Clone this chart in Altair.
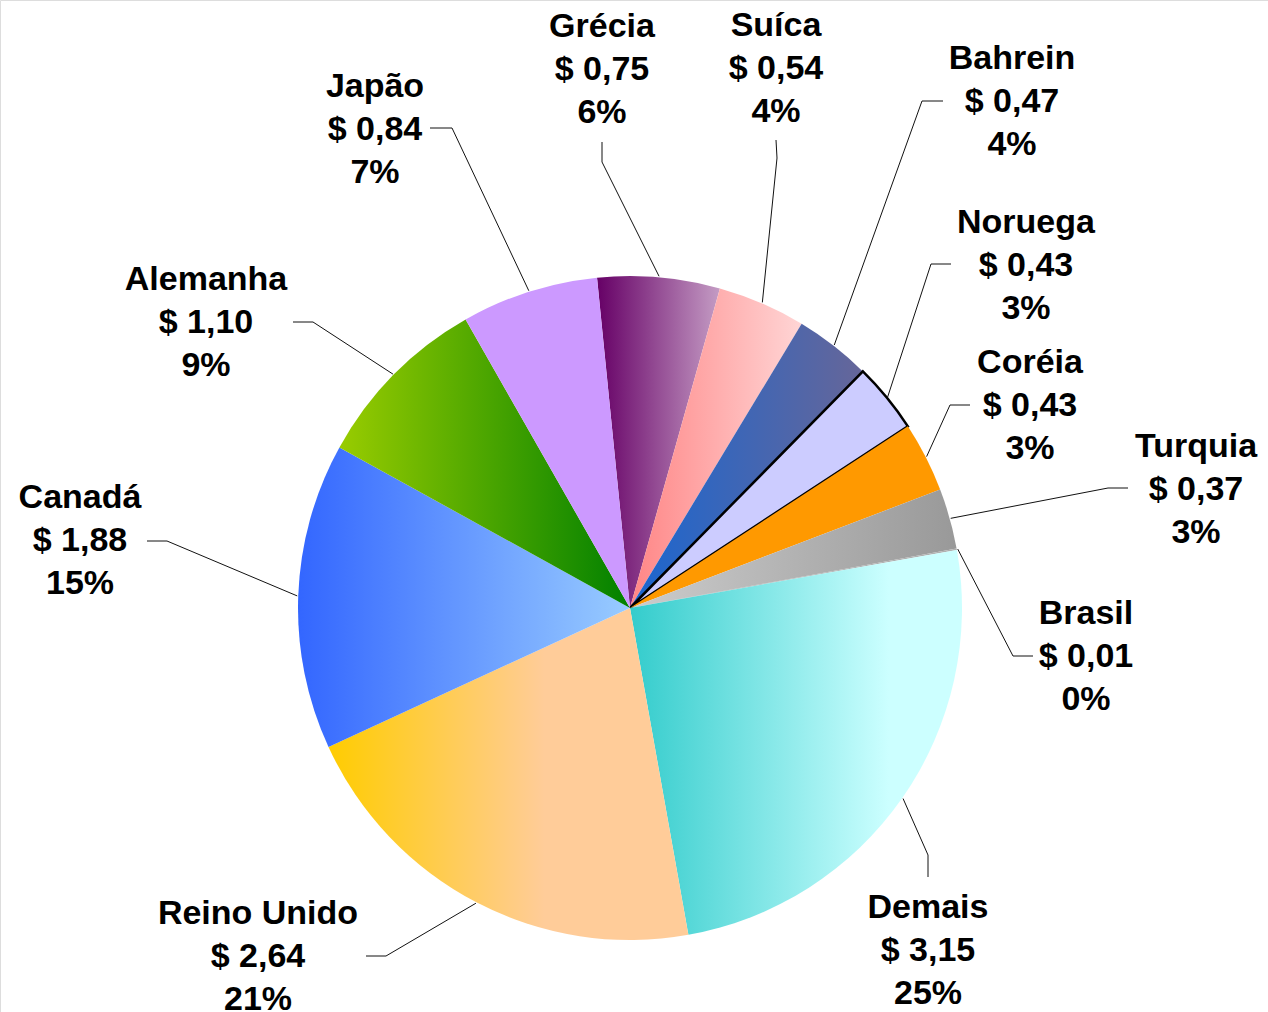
import math
import pandas as pd
import altair as alt

# ---- data ----
paises = ["Grécia", "Suíca", "Bahrein", "Noruega", "Coréia", "Turquia", "Brasil",
          "Demais", "Reino Unido", "Canadá", "Alemanha", "Japão"]
valores = [0.75, 0.54, 0.47, 0.43, 0.43, 0.37, 0.01, 3.15, 2.64, 1.88, 1.10, 0.84]

# ---- layout / style ----
CX, CY, R = 630, 608, 332
START_DEG = -5.7
A0 = math.radians(START_DEG)
LINE_H = 43

def grad(c0, c1, mid=None):
    stops = [alt.GradientStop(color=c0, offset=0)]
    if mid is not None:
        stops.append(alt.GradientStop(color=c1, offset=mid))
    stops.append(alt.GradientStop(color=c1, offset=1))
    return alt.LinearGradient(gradient="linear", stops=stops, x1=0, x2=1, y1=0, y2=0)

fills = {
    "Grécia": grad("#660066", "#c49cc4"),
    "Suíca": grad("#ff8585", "#ffd5d5"),
    "Bahrein": grad("#1a66d0", "#666699"),
    "Noruega": "#ccccff",
    "Coréia": "#ff9900",
    "Turquia": grad("#cccccc", "#999999"),
    "Brasil": "#b0b0b0",
    "Demais": grad("#33cccc", "#ccffff", 0.78),
    "Reino Unido": grad("#ffcc00", "#ffcc99", 0.6),
    "Canadá": grad("#3366ff", "#99ccff"),
    "Alemanha": grad("#99cc00", "#008000"),
    "Japão": "#cc99ff",
}

# label block centre (middle line) and leader-line end / elbow
label_pos = {
    "Grécia": (602, 70), "Suíca": (776, 69), "Bahrein": (1012, 102),
    "Noruega": (1026, 266), "Coréia": (1030, 406), "Turquia": (1196, 490),
    "Brasil": (1086, 657), "Demais": (928, 951), "Reino Unido": (258, 957),
    "Canadá": (80, 541), "Alemanha": (206, 323), "Japão": (375, 130),
}
leader = {
    "Grécia": [(602, 142), (602, 162)], "Suíca": [(776, 140), (777, 158)],
    "Bahrein": [(943, 101), (922, 101)], "Noruega": [(951, 264), (931, 264)],
    "Coréia": [(970, 405), (950, 405)], "Turquia": [(1128, 488), (1108, 488)],
    "Brasil": [(1033, 656), (1013, 656)], "Demais": [(928, 877), (928, 855)],
    "Reino Unido": [(366, 956), (386, 956)], "Canadá": [(147, 541), (167, 541)],
    "Alemanha": [(293, 322), (313, 322)], "Japão": [(430, 128), (452, 128)],
}

# ---- tables built from the data ----
total = sum(valores)
df = pd.DataFrame({"pais": paises, "valor": valores})
df["fim"] = df["valor"].cumsum()
df["ini"] = df["fim"] - df["valor"]
df["rotulo"] = [
    f"{p}\n$ {v:.2f}".replace(".", ",") + f"\n{round(v / total * 100):.0f}%"
    for p, v in zip(paises, valores)
]
df["lx"] = [label_pos[p][0] for p in paises]
df["ly"] = [label_pos[p][1] for p in paises]

rows = []
for p, a, b in zip(df["pais"], df["ini"], df["fim"]):
    mid = A0 + 2 * math.pi * (a + b) / 2 / total
    ex = CX + (R + 1) * math.sin(mid)
    ey = CY - (R + 1) * math.cos(mid)
    pts = leader[p] + [(ex, ey)]
    for i, (x, y) in enumerate(pts):
        rows.append({"pais": p, "step": i, "x": x, "y": y})
lines_df = pd.DataFrame(rows)

theta_scale = alt.Scale(domain=[0, total], range=[A0, A0 + 2 * math.pi])

base = alt.Chart(df)
layers = []
for p in paises:
    kw = dict(radius=R, fill=fills[p])
    if p == "Noruega":
        kw.update(stroke="black", strokeWidth=2.5)
    else:
        kw.update(strokeWidth=0)
    layers.append(
        base.transform_filter(alt.datum.pais == p)
        .mark_arc(**kw)
        .encode(
            theta=alt.Theta("ini:Q", scale=theta_scale),
            theta2="fim:Q",
            x=alt.value(CX),
            y=alt.value(CY),
        )
    )

lines = alt.Chart(lines_df).mark_line(color="#111111", strokeWidth=1).encode(
    x=alt.X("x:Q", scale=None, axis=None),
    y=alt.Y("y:Q", scale=None, axis=None),
    detail="pais:N",
    order="step:O",
)

texts = base.mark_text(
    font="Liberation Sans", fontSize=34, fontWeight="bold", lineBreak="\n",
    lineHeight=LINE_H, align="center", baseline="middle", color="black",
    dy=-LINE_H,
).encode(
    x=alt.X("lx:Q", scale=None, axis=None),
    y=alt.Y("ly:Q", scale=None, axis=None),
    text="rotulo:N",
)

chart = alt.layer(*layers, lines, texts).properties(
    width=1268, height=1012,
    autosize=alt.AutoSizeParams(type="none"),
    padding=0,
).configure_view(stroke=None).configure(background="white")

chart.save("out.html", embed_options={"renderer": "svg", "actions": False})
